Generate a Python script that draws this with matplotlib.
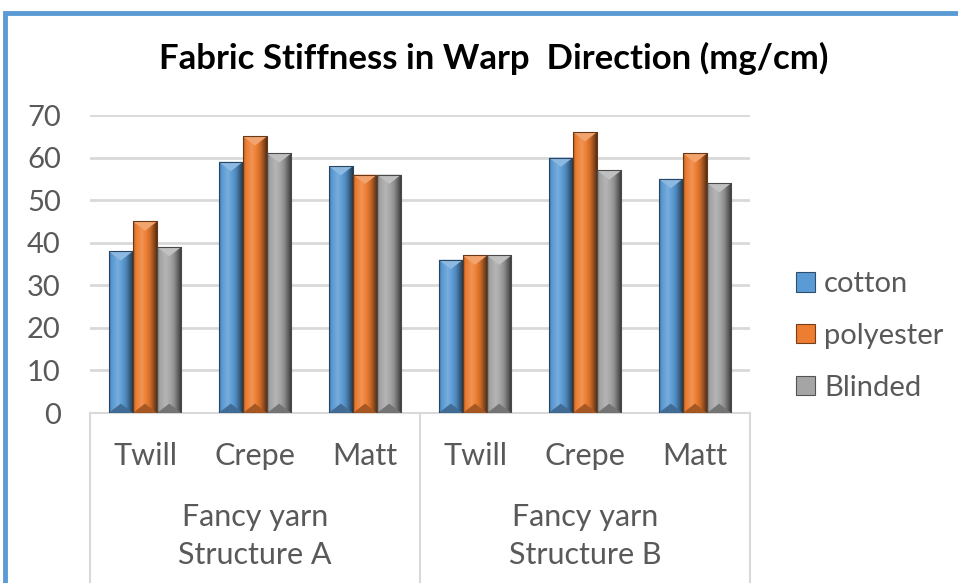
import numpy as np
import matplotlib
matplotlib.use("Agg")
import matplotlib.pyplot as plt
from matplotlib.patches import Polygon, Rectangle
from matplotlib.colors import to_rgb
from matplotlib.lines import Line2D
import matplotlib.transforms as mtransforms

# ---- data ----
title = "Fabric Stiffness in Warp  Direction (mg/cm)"
categories = ["Twill", "Crepe", "Matt", "Twill", "Crepe", "Matt"]
groups = ["Fancy yarn\nStructure A", "Fancy yarn\nStructure B"]
series_names = ["cotton", "polyester", "Blinded"]
cotton = [38, 59, 58, 36, 60, 55]
polyester = [45, 65, 56, 37, 66, 61]
blinded = [39, 61, 56, 37, 57, 54]
yticks = [0, 10, 20, 30, 40, 50, 60, 70]

series = [cotton, polyester, blinded]
colors = ["#5B9BD5", "#ED7D31", "#A5A5A5"]

plt.rcParams['font.family'] = ['Lato', 'DejaVu Sans']
txt = "#595959"

fig = plt.figure(figsize=(9.58, 5.83), dpi=100)
W, H = 958, 583
ax = fig.add_axes([90 / W, (H - 413) / H, 660 / W, (413 - 115) / H])

# outer blue frame (top and left edges visible)
fig.patches.append(Rectangle((5 / W, -0.2), 1.2, (H - 13) / H + 0.2, transform=fig.transFigure,
                             fill=False, edgecolor="#5B9BD5", linewidth=3.5))

x = np.arange(len(categories))
bw = 0.22
offsets = [-bw, 0, bw]


def shade(c, f):
    r = np.array(to_rgb(c))
    if f >= 0:
        return tuple(r + (1 - r) * f)
    return tuple(r * (1 + f))


for vals, col, off in zip(series, colors, offsets):
    bars = ax.bar(x + off, vals, width=bw, color=col, edgecolor="none", zorder=3)
    for b in bars:
        x0, w, h = b.get_x(), b.get_width(), b.get_height()
        n = 60
        t = np.linspace(0, 1, n)
        fac = np.interp(t, [0, 0.08, 0.35, 0.7, 0.9, 1.0], [-0.3, -0.05, 0.18, -0.15, -0.5, -0.7])
        grad = np.array([[shade(col, f) for f in fac]])
        im = ax.imshow(grad, extent=(x0, x0 + w, 0, h), aspect='auto', zorder=4, interpolation='bilinear')
        im.set_clip_path(b)
        d = 2.2
        ax.add_patch(Polygon([(x0, h), (x0 + w, h), (x0 + w / 2, h - d)], closed=True,
                             facecolor=shade(col, 0.3), edgecolor="none", zorder=5))
        ax.add_patch(Polygon([(x0, 0), (x0 + w, 0), (x0 + w / 2, d)], closed=True,
                             facecolor=shade(col, -0.3), edgecolor="none", zorder=5))
        ax.add_patch(Rectangle((x0, 0), w, h, fill=False, edgecolor=shade(col, -0.55),
                               linewidth=0.8, zorder=6))

ax.set_xlim(-0.5, len(categories) - 0.5)
ax.set_ylim(0, 70)
ax.set_yticks(yticks)
ax.set_yticklabels([str(v) for v in yticks], fontsize=21, color=txt)
ax.yaxis.grid(True, color="#D9D9D9", linewidth=2, zorder=0)
ax.set_axisbelow(True)
ax.tick_params(axis='y', length=0, pad=21)
ax.set_xticks(x)
ax.set_xticklabels(categories, fontsize=22, color=txt)
ax.tick_params(axis='x', length=0, pad=21)
for s in ["top", "right", "left"]:
    ax.spines[s].set_visible(False)
ax.spines["bottom"].set_color("#D9D9D9")
ax.spines["bottom"].set_linewidth(1.5)

trans = mtransforms.blended_transform_factory(ax.transData, ax.transAxes)
n_per = 3
for gi, g in enumerate(groups):
    cx = gi * n_per + (n_per - 1) / 2
    ax.text(cx, -0.413, g, transform=trans, ha='center', va='center', fontsize=22,
            color=txt, linespacing=1.45)
for sx in [-0.5, 2.5, 5.5]:
    ax.add_line(Line2D([sx, sx], [0, -0.7], transform=trans, color="#D9D9D9",
                       linewidth=1.5, clip_on=False))

fig.text(494 / W, 1 - 58 / H, title, ha='center', va='center', fontsize=25,
         fontweight='bold', color='black')

handles = [Rectangle((0, 0), 1, 1, facecolor=c, edgecolor=shade(c, -0.5), linewidth=0.8)
           for c in colors]
leg = fig.legend(handles, series_names, loc='center left', bbox_to_anchor=(770 / W, 1 - 336 / H),
                 frameon=False, fontsize=21, handlelength=0.65, handleheight=0.65,
                 handletextpad=0.3, labelspacing=0.88, labelcolor=txt)

fig.savefig("out.png", dpi=100)
